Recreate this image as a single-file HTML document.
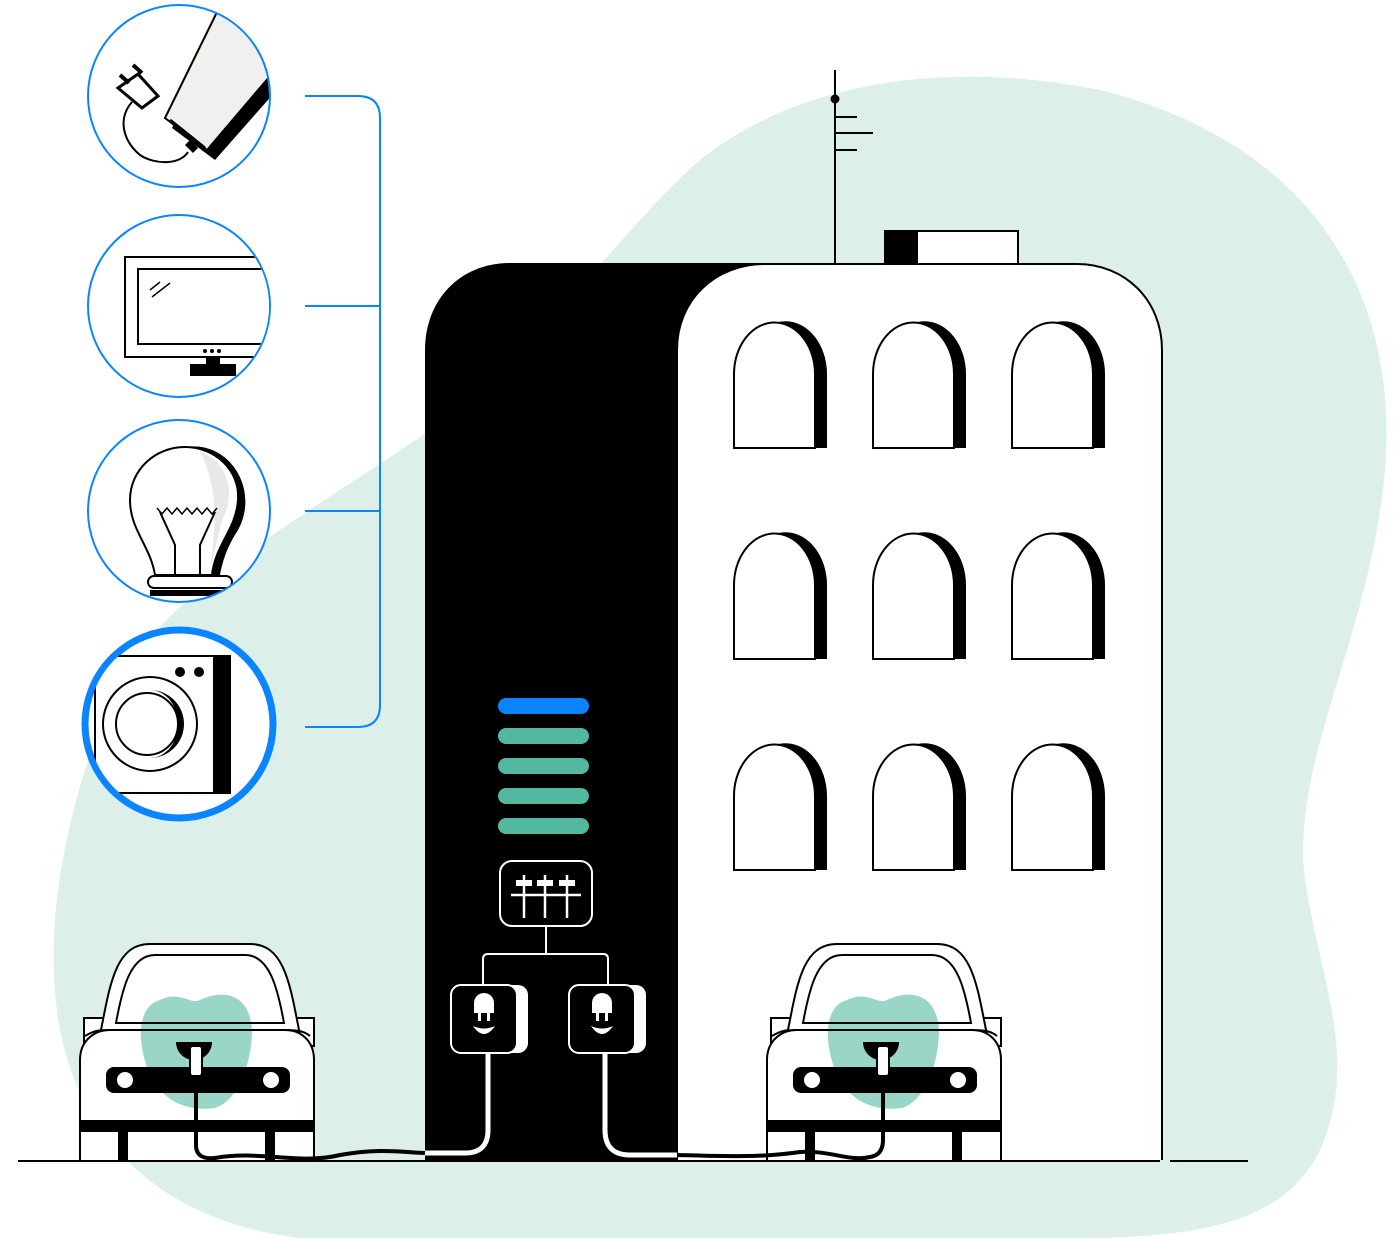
<!DOCTYPE html>
<html><head><style>body{margin:0;background:#fff}svg{display:block}</style></head><body>
<svg width="1400" height="1239" viewBox="0 0 1400 1239" xmlns="http://www.w3.org/2000/svg">
<defs>
<clipPath id="c1"><circle cx="179" cy="96" r="90"/></clipPath>
<clipPath id="c2"><circle cx="179" cy="306" r="90"/></clipPath>
<clipPath id="c3"><circle cx="179" cy="511" r="90"/></clipPath>
<clipPath id="c4"><circle cx="179" cy="724" r="91"/></clipPath>
<g id="win"><path d="M744,444 V370 a37,47 0 0 1 83,0 V444 Z" fill="#000"/><path d="M734,444 V370 a37,47 0 0 1 81,0 V444 Z" fill="#fff" stroke="#000" stroke-width="2"/></g>
<g id="car">
<path d="M84,1018 h20 v28 h-20 z M294,1018 h20 v28 h-20 z" fill="#fff" stroke="#000" stroke-width="2"/>
<path d="M100,1035 C110,985 115,944 150,944 H250 C285,944 290,985 300,1035 Z" fill="#fff" stroke="#000" stroke-width="2"/>
<path d="M80,1160 V1060 C80,1040 95,1030 110,1030 H285 C300,1030 314,1040 314,1060 V1160" fill="#fff" stroke="#000" stroke-width="2"/>
<path d="M160,1000 C180,990 190,1005 200,1000 C225,988 250,995 252,1030 C252,1060 240,1100 215,1108 C185,1112 160,1100 148,1070 C135,1035 140,1005 160,1000Z" fill="#9ad6c7"/>
<path d="M116,1023 C122,990 130,955 155,955 H245 C270,955 278,990 284,1023 Z" fill="none" stroke="#000" stroke-width="2"/>
<path d="M85,1036 C95,1030 100,1030 110,1030 H285 C300,1030 305,1032 310,1036" fill="none" stroke="#000" stroke-width="2"/>
<rect x="80" y="1120" width="234" height="12" fill="#000"/>
<rect x="118" y="1132" width="10" height="28" fill="#000"/><rect x="265" y="1132" width="10" height="28" fill="#000"/>
<rect x="106" y="1067" width="184" height="26" rx="8" fill="#000"/>
<circle cx="125" cy="1080" r="8" fill="#fff"/><circle cx="271" cy="1080" r="8" fill="#fff"/>
<path d="M176,1042 h36 c0,10 -8,18 -18,18 c-10,0 -18,-8 -18,-18z" fill="#000"/>
<rect x="190" y="1046" width="12" height="30" rx="3" fill="#fff" stroke="#000" stroke-width="2"/>
</g>
<g id="outlet"><rect x="458" y="985" width="70" height="68" rx="10" fill="#fff"/><rect x="451" y="985" width="66" height="68" rx="10" fill="#000" stroke="#fff" stroke-width="2"/>
<path d="M474,1003 a10,10 0 0 1 20,0 v10 h-20z" fill="#fff"/><rect x="478" y="1013" width="3" height="8" fill="#fff"/><rect x="487" y="1013" width="3" height="8" fill="#fff"/>
<path d="M473,1026 q11,16 22,0 q-11,5 -22,0z" fill="#fff"/></g>
</defs>
<path d="M700,160 C800,80 950,60 1100,90 C1300,140 1400,280 1385,470 C1370,640 1290,760 1305,880 C1320,980 1360,1060 1320,1150 C1290,1210 1230,1235 1100,1238 L300,1238 C150,1220 80,1130 60,1030 C40,920 70,800 110,700 C150,600 300,520 430,430 C550,340 620,230 700,160 Z" fill="#dcefe9"/>
<line x1="18" y1="1161" x2="1160" y2="1161" stroke="#000" stroke-width="2"/>
<line x1="1170" y1="1161" x2="1248" y2="1161" stroke="#000" stroke-width="2"/>
<line x1="835" y1="70" x2="835" y2="263" stroke="#000" stroke-width="2"/>
<circle cx="835" cy="99" r="4.5" fill="#000"/>
<path d="M835,117 h22 M835,133 h38 M835,150 h22" stroke="#000" stroke-width="2"/>
<rect x="885" y="231" width="133" height="33" fill="#fff" stroke="#000" stroke-width="2"/>
<rect x="885" y="231" width="33" height="33" fill="#000"/>
<path d="M425,1160 V350 C425,300 460,263 510,263 H770 V1160 Z" fill="#000"/>
<path d="M677,1160 V350 C677,300 715,264 765,264 H1077 C1125,264 1162,300 1162,350 V1160" fill="#fff" stroke="#000" stroke-width="2"/>
<use href="#win" y="4"/><use href="#win" x="139" y="4"/><use href="#win" x="278" y="4"/>
<use href="#win" y="215"/><use href="#win" x="139" y="215"/><use href="#win" x="278" y="215"/>
<use href="#win" y="426"/><use href="#win" x="139" y="426"/><use href="#win" x="278" y="426"/>
<rect x="498" y="698" width="91" height="16" rx="8" fill="#0a84ff"/>
<rect x="498" y="728" width="91" height="16" rx="8" fill="#52b9a0"/>
<rect x="498" y="758" width="91" height="16" rx="8" fill="#52b9a0"/>
<rect x="498" y="788" width="91" height="16" rx="8" fill="#52b9a0"/>
<rect x="498" y="818" width="91" height="16" rx="8" fill="#52b9a0"/>
<rect x="500" y="861" width="92" height="65" rx="12" fill="none" stroke="#fff" stroke-width="2"/>
<path d="M511,895 h70 M524,875 v43 M545,875 v43 M567,875 v43" stroke="#fff" stroke-width="2.5"/>
<rect x="516" y="880" width="16" height="6" fill="#fff"/><rect x="537" y="880" width="16" height="6" fill="#fff"/><rect x="559" y="880" width="16" height="6" fill="#fff"/>
<path d="M546,926 v28 M483,985 v-26 q0,-5 5,-5 h115 q5,0 5,5 v26" fill="none" stroke="#fff" stroke-width="2"/>
<use href="#outlet"/><use href="#outlet" x="118"/>
<path d="M488,1053 V1130 Q488,1153 465,1153 H425" fill="none" stroke="#fff" stroke-width="5"/>
<path d="M605,1053 V1130 Q605,1155 630,1155 H677" fill="none" stroke="#fff" stroke-width="5"/>
<use href="#car"/><use href="#car" x="687"/>
<path d="M196,1076 V1145 Q196,1160 215,1158 C260,1150 300,1165 340,1155 C380,1148 400,1152 425,1153" fill="none" stroke="#000" stroke-width="4"/>
<path d="M677,1155 C720,1156 760,1158 800,1152 C830,1150 850,1162 870,1157 Q883,1155 883,1140 V1076" fill="none" stroke="#000" stroke-width="4"/>
<path d="M305,96 H358 Q380,96 380,118 V705 Q380,727 358,727 H305 M305,306 H380 M305,511 H380" fill="none" stroke="#0a84ff" stroke-width="2"/>
<circle cx="179" cy="96" r="91" fill="#fff" stroke="#0a84ff" stroke-width="2"/>
<g clip-path="url(#c1)">
<path d="M225,20 L290,75 L215,160 L172,128 Z" fill="#000"/>
<path d="M218,10 L282,62 L207,150 L165,118 Z" fill="#f0f0ee" stroke="#000" stroke-width="2"/>
<path d="M170,120 L205,148" stroke="#000" stroke-width="3"/>
<path d="M190,140 l8,8 l-5,5 l-8,-8z" fill="#000"/>
<path d="M188,152 C180,165 155,165 140,155 C122,140 118,118 132,102" fill="none" stroke="#000" stroke-width="2"/>
<path d="M118,88 l20,-14 l20,22 l-16,12 z" fill="#fff" stroke="#000" stroke-width="3"/>
<path d="M120,75 l9,8 M133,65 l9,8" stroke="#000" stroke-width="4"/>
</g>
<circle cx="179" cy="306" r="91" fill="#fff" stroke="#0a84ff" stroke-width="2"/>
<g clip-path="url(#c2)">
<rect x="125" y="257" width="160" height="100" fill="#fff" stroke="#000" stroke-width="2"/>
<rect x="138" y="269" width="150" height="75" fill="#fff" stroke="#000" stroke-width="2"/>
<path d="M150,290 l10,-8 M152,297 l18,-14" stroke="#000" stroke-width="1.5"/>
<circle cx="205" cy="351" r="2" fill="#000"/><circle cx="212" cy="351" r="2" fill="#000"/><circle cx="219" cy="351" r="2" fill="#000"/>
<rect x="190" y="364" width="46" height="12" fill="#000"/><rect x="206" y="357" width="14" height="8" fill="#000"/>
</g>
<circle cx="179" cy="511" r="91" fill="#fff" stroke="#0a84ff" stroke-width="2"/>
<g clip-path="url(#c3)">
<path d="M185,447 C230,440 260,490 238,530 C225,550 222,565 220,575 L200,575 Z" fill="#000"/>
<path d="M155,575 C150,545 130,530 130,500 C130,470 155,447 185,447 C215,447 240,470 238,500 C236,530 215,545 212,575 Z" fill="#fff" stroke="#000" stroke-width="2"/>
<path d="M200,452 C225,460 238,490 222,520 L210,570 C215,530 220,490 200,452Z" fill="#e8e8e8"/>
<path d="M157,508 l5,6 l5,-6 l5,6 l5,-6 l5,6 l5,-6 l5,6 l5,-6 l5,6 l5,-6 l5,6 l5,-6" fill="none" stroke="#000" stroke-width="1.5"/>
<path d="M160,512 L175,545 V575 M215,512 L200,545 V575" fill="none" stroke="#000" stroke-width="2"/>
<rect x="148" y="576" width="84" height="12" rx="6" fill="#fff" stroke="#000" stroke-width="2"/>
<rect x="150" y="590" width="80" height="6" fill="#000"/>
</g>
<circle cx="179" cy="724" r="94" fill="#fff" stroke="#0a84ff" stroke-width="7"/>
<g clip-path="url(#c4)">
<rect x="95" y="656" width="135" height="137" fill="#fff" stroke="#000" stroke-width="2"/>
<rect x="213" y="656" width="17" height="137" fill="#000"/>
<circle cx="180" cy="672" r="5" fill="#000"/><circle cx="199" cy="672" r="5" fill="#000"/>
<circle cx="150" cy="724" r="47" fill="none" stroke="#000" stroke-width="2"/>
<path d="M150,690 a34,34 0 0 1 0,68 a28,34 0 0 0 0,-68z" fill="#000"/>
<circle cx="147" cy="724" r="31" fill="none" stroke="#000" stroke-width="2"/>
</g>
</svg>
</body></html>
